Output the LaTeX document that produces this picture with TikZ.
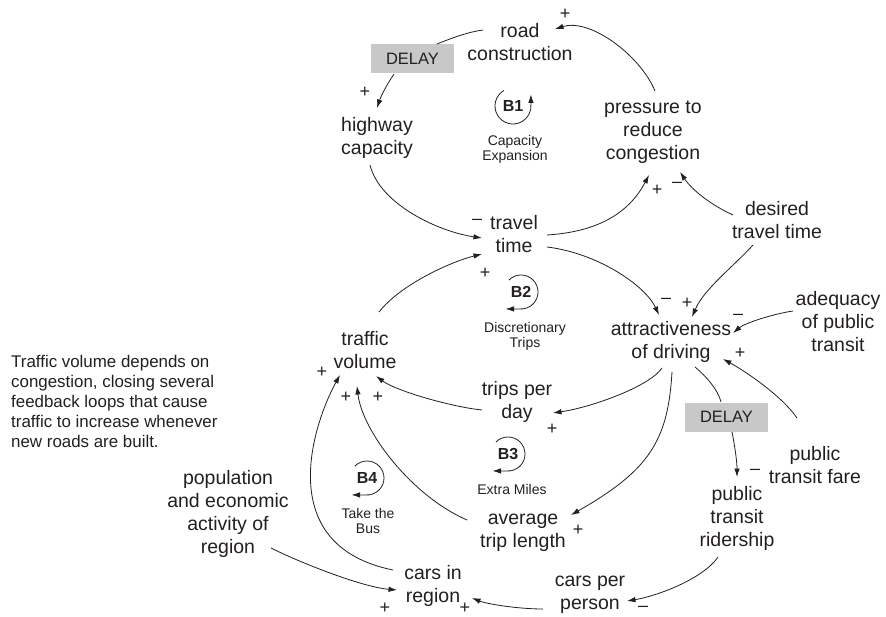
\documentclass[tikz,border=0pt]{standalone}
\usepackage{fontspec}
\setmainfont{Liberation Sans}
\usetikzlibrary{arrows.meta, calc}

\definecolor{ink}{RGB}{35,31,32}
\definecolor{delaygray}{RGB}{200,200,200}

\tikzset{
	var/.style = {align = center, font = \fontsize{19.5}{23}\selectfont},
	looptext/.style = {align = center, font = \fontsize{14}{15}\selectfont},
	loopid/.style = {font = \bfseries\fontsize{16}{16}\selectfont, inner sep = 0},
	polsign/.style = {font = \fontsize{18}{18}\selectfont, inner sep = 0},
	delaybox/.style = {fill = delaygray, minimum width = 83pt, minimum height = 29pt, inner sep = 0, font = \fontsize{16.5}{18}\selectfont},
	link/.style = {->, line width = 0.8pt},
	plainlink/.style = {line width = 0.8pt},
}

\begin{document}
\begin{tikzpicture}[> = {Latex[length = 8.5pt, width = 5.5pt]}, x = 1pt, y = 1pt, color = ink]

	\useasboundingbox (0, 0) rectangle (886, -617);

	% Variables

	\node [var] (road) at (520, -42) {road\\construction};
	\node [var] (hwy) at (377, -138) {highway\\capacity};
	\node [var] (press) at (653, -132) {pressure to\\reduce\\congestion};
	\node [var] (travel) at (514, -234) {travel\\time};
	\node [var] (desired) at (777, -220) {desired\\travel time};
	\node [var] (attract) at (671, -342) {attractiveness\\of driving};
	\node [var] (adequacy) at (838, -322) {adequacy\\of public\\transit};
	\node [var] (fare) at (815, -465) {public\\transit fare};
	\node [var] (trafvol) at (365, -350) {traffic\\volume};
	\node [var] (trips) at (517, -402) {trips per\\day};
	\node [var] (avglen) at (523, -533) {average\\trip length};
	\node [var] (rider) at (737, -518) {public\\transit\\ridership};
	\node [var] (pop) at (228, -514) {population\\and economic\\activity of\\region};
	\node [var] (carsreg) at (433, -586) {cars in\\region};
	\node [var] (carspp) at (590, -595) {cars per\\person};

	% Delays

	\node [delaybox] (delayA) at (412.5, -58.5) {DELAY};
	\node [delaybox] (delayB) at (726.5, -417) {DELAY};

	% Side note

	\node [align = left, anchor = west, inner sep = 0, font = \fontsize{16.9}{20}\selectfont] (caption) at (11, -401)
		{Traffic volume depends on\\congestion, closing several\\feedback loops that cause\\traffic to increase whenever\\new roads are built.};

	% Links

	\draw [plainlink] ($(road) + (-37, 12)$) .. controls +(-15, -2) and +(15, 6) .. ($(delayA) + (24.5, 14.5)$);
	\draw [link] ($(delayA) + (-18.5, -15.5)$) .. controls +(-8, -12) and +(4, 12) .. ($(hwy) + (0, 30)$);
	\draw [link] ($(press) + (2, 41)$) .. controls +(-15, 36) and +(35, 11) .. ($(road) + (35, 13)$);
	\draw [link] ($(hwy) + (-7, -27)$) .. controls +(10, -40) and +(-42, 6) .. ($(travel) + (-32, -4)$);
	\draw [link] ($(trafvol) + (14, 38)$) .. controls +(21, 27) and +(-32, -8) .. ($(travel) + (-32, -20)$);
	\draw [link] ($(travel) + (33, -1)$) .. controls +(48, 3) and +(-21, -40) .. ($(press) + (-4, -43)$);
	\draw [link] ($(desired) + (-44, 5)$) .. controls +(-22, 10) and +(12, -18) .. ($(press) + (27, -40)$);
	\draw [link] ($(desired) + (-24, -25)$) .. controls +(-20, -22) and +(12, 28) .. ($(attract) + (21, 25)$);
	\draw [link] ($(travel) + (33, -13)$) .. controls +(50, -6) and +(-14, 30) .. ($(attract) + (-12, 27)$);
	\draw [link] ($(adequacy) + (-45, 11)$) .. controls +(-20, -3) and +(12, 10) .. ($(attract) + (62, 9)$);
	\draw [link] ($(fare) + (-18, 47)$) .. controls +(-15, 22) and +(22, -12) .. ($(attract) + (52, -17)$);
	\draw [link] ($(attract) + (-9, -26)$) .. controls +(-12, -18) and +(40, 6) .. ($(trips) + (36, -11)$);
	\draw [link] ($(trips) + (-35, -8)$) .. controls +(-30, 3) and +(20, -15) .. ($(trafvol) + (11, -26)$);
	\draw [link] ($(avglen) + (-56, 13)$) .. controls +(-57, 25) and +(5, -44) .. ($(trafvol) + (-8, -36)$);
	\draw [link] ($(carsreg) + (-40, 16)$) .. controls +(-123, 25) and +(-25, -45) .. ($(trafvol) + (-25, -25)$);
	\draw [link] ($(attract) + (1, -30)$) .. controls +(-4, -68) and +(79, 45) .. ($(avglen) + (48, 18)$);
	\draw [plainlink] ($(attract) + (24, -25)$) .. controls +(12, -10) and +(-3, 12) .. ($(delayB) + (-5.5, 15)$);
	\draw [link] ($(delayB) + (5.5, -15)$) .. controls +(3, -15) and +(0, 15) .. ($(rider) + (0, 41)$);
	\draw [link] ($(rider) + (-19, -39)$) .. controls +(-15, -22) and +(30, 5) .. ($(carspp) + (37, -6)$);
	\draw [link] ($(carspp) + (-47, -14)$) .. controls +(-25, 0) and +(15, -6) .. ($(carsreg) + (39, -12)$);
	\draw [link] ($(pop) + (43, -34)$) .. controls +(30, -15) and +(-35, 3) .. ($(carsreg) + (-36, -4)$);

	% Link polarities

	\foreach \s/\x/\y [count = \i] in {+/565/14, +/365/92, \textendash/477/222, +/485/273,
		+/657/190, \textendash/677/185, \textendash/666/301, +/687/303, \textendash/738/317,
		+/740/353, +/552/429, +/322/372, +/346/397, +/378/397, +/578/530,
		\textendash/755/472, \textendash/643/609, +/385/608, +/465/608}
		\node [polsign] (sign\i) at (\x, -\y) {\s};

	% Loops

	\node [loopid] (b1) at (513, -106) {B1};
	\node [loopid] (b2) at (521, -292) {B2};
	\node [loopid] (b3) at (508, -454) {B3};
	\node [loopid] (b4) at (367, -478) {B4};

	\draw [link] (b1) ++(120:18) arc [start angle = 120, end angle = 365, radius = 18] -- ++(0, 10);
	\foreach \b in {b2, b3, b4}
		\draw [link] (\b) ++(135:17) arc [start angle = 135, end angle = -95, radius = 17] -- ++(-14, 0);

	\node [looptext] (b1name) at (515, -149) {Capacity\\Expansion};
	\node [looptext] (b2name) at (525, -336) {Discretionary\\Trips};
	\node [looptext] (b3name) at (512, -489) {Extra Miles};
	\node [looptext] (b4name) at (368, -521) {Take the\\Bus};

\end{tikzpicture}
\end{document}
